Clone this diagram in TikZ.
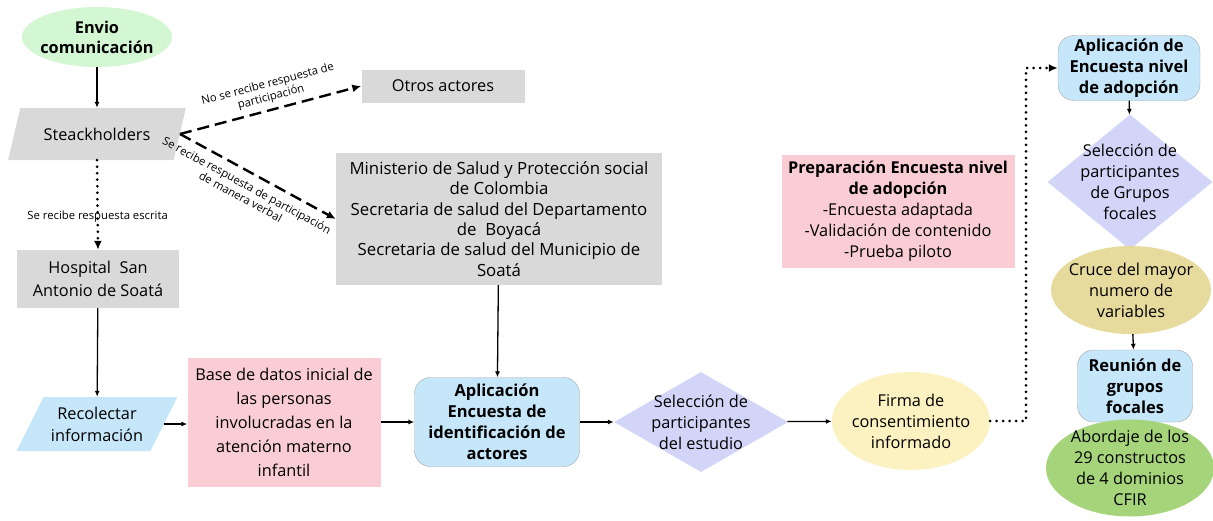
\documentclass[tikz,border=0pt]{standalone}
\usepackage{fontspec}
\setmainfont{Open Sans}
\usetikzlibrary{shapes.geometric,arrows.meta}

\definecolor{grisfondo}{HTML}{D9D9D9}
\definecolor{verdeclaro}{HTML}{D3F6D3}
\definecolor{azulclaro}{HTML}{C6E6FA}
\definecolor{rosa}{HTML}{F9CDD3}
\definecolor{lila}{HTML}{D3D5F8}
\definecolor{amarillo}{HTML}{FBF1C1}
\definecolor{caqui}{HTML}{E6DA9C}
\definecolor{verde}{HTML}{A5D47B}

\begin{document}
\begin{tikzpicture}[x=1pt,y=-1pt,font=\fontsize{16.3}{21}\selectfont,
    gris/.style={fill=grisfondo,align=center,inner sep=0pt},
    caja/.style={align=center,inner sep=0pt},
    paralelo/.style={trapezium,trapezium left angle=56,trapezium right angle=124,
        trapezium stretches=true,inner sep=0pt,align=center},
    redondo/.style={rounded corners=16pt,draw=gray!70,fill=azulclaro,align=center,
        inner sep=0pt,font=\fontsize{16.5}{21}\selectfont\bfseries},
    rombo/.style={diamond,fill=lila,inner sep=0pt},
    elipse/.style={ellipse,inner sep=0pt},
    txt/.style={align=center},
    etiq/.style={font=\fontsize{11.3}{13}\selectfont,align=center},
    flecha/.style={-{Latex[length=6pt,width=5pt]},line width=1.3pt},
    guiones/.style={-{Latex[length=9pt,width=8pt]},line width=2.4pt,dash pattern=on 12pt off 6pt},
    puntos/.style={-{Latex[length=9pt,width=8pt]},line width=3pt,line cap=round,dash pattern=on 0pt off 6.5pt}]
    \useasboundingbox (0,0) rectangle (1213,520);

    % columna izquierda
    \node[elipse,fill=verdeclaro,minimum width=150,minimum height=60,
        label={[txt,font=\fontsize{16.3}{20}\selectfont\bfseries]center:{Envio\\comunicación}}] (envio) at (97,37) {};
    \node[paralelo,fill=grisfondo,minimum width=178,minimum height=52] (stk) at (97,134) {Steackholders};
    \node[gris,minimum width=163,minimum height=33] (otros) at (443,86) {Otros actores};
    \node[gris,minimum width=326,minimum height=132,font=\fontsize{16.8}{20.4}\selectfont] (minis) at (499,219)
        {Ministerio de Salud y Protección social\\de Colombia\\Secretaria de salud del Departamento\\de~ Boyacá\\Secretaria de salud del Municipio de\\Soatá};
    \node[gris,minimum width=162,minimum height=58,font=\fontsize{16.3}{23}\selectfont] (hosp) at (98,279) {Hospital~ San\\Antonio de Soatá};
    \node[paralelo,fill=azulclaro,minimum width=161,minimum height=54,font=\fontsize{16.3}{22}\selectfont] (reco) at (97,424) {Recolectar\\información};

    % fila inferior
    \node[caja,fill=rosa,minimum width=193,minimum height=129,font=\fontsize{16.3}{24}\selectfont] (base) at (284,422)
        {Base de datos inicial de\\las personas\\involucradas en la\\atención materno\\infantil};
    \node[redondo,minimum width=165,minimum height=89] (apli) at (497,422)
        {Aplicación\\Encuesta de\\identificación de\\actores};
    \node[rombo,minimum width=174,minimum height=100,
        label={[txt]center:{Selección de\\participantes\\del estudio}}] (selec) at (701,422) {};
    \node[elipse,fill=amarillo,minimum width=158,minimum height=98,
        label={[txt]center:{Firma de\\consentimiento\\informado}}] (firma) at (911,421) {};
    \node[caja,fill=rosa,minimum width=233,minimum height=113] (prep) at (898,211)
        {\textbf{Preparación Encuesta nivel}\\\textbf{de adopción}\\-Encuesta adaptada\\-Validación de contenido\\-Prueba piloto};

    % columna derecha
    \node[redondo,minimum width=142,minimum height=65] (apli2) at (1129,68)
        {Aplicación de\\Encuesta nivel\\de adopción};
    \node[rombo,minimum width=165,minimum height=135,
        label={[txt]center:{Selección de\\participantes\\de Grupos\\focales}}] (selec2) at (1130,182) {};
    \node[elipse,fill=caqui,minimum width=160,minimum height=88,
        label={[txt]center:{Cruce del mayor\\numero de\\variables}}] (cruce) at (1131,290) {};
    \node[redondo,minimum width=115,minimum height=72] (reun) at (1135,386)
        {Reunión de\\grupos\\focales};
    \node[elipse,fill=verde,minimum width=168,minimum height=97,
        label={[txt]center:{Abordaje de los\\29 constructos\\de 4 dominios\\CFIR}}] (abord) at (1130,468) {};
    \coordinate (giro) at (1026,300);

    % conectores
    \draw[flecha] (envio) -- (stk);
    \draw[guiones] (stk.east) -- (otros.west)
        node[etiq,pos=0.52,sloped,above=2pt] {No se recibe respuesta de\\participación};
    \draw[guiones] (stk.east) -- (minis.west)
        node[etiq,pos=0.47,sloped,below=4pt] {Se recibe respuesta de participación\\de manera verbal};
    \draw[puntos] (stk.south) -- (hosp.north)
        node[etiq,pos=0.63] {Se recibe respuesta escrita};
    \draw[flecha] (hosp) -- (reco);
    \draw[flecha] (reco.east) -- (reco.east -| base.west);
    \draw[flecha] (base) -- (apli);
    \draw[flecha] (minis) -- (apli);
    \draw[flecha] (apli) -- (selec);
    \draw[flecha] (selec) -- (firma);
    \draw[puntos] (firma.east) -| (giro) |- (apli2.west);
    \draw[flecha] (apli2) -- (selec2);
    \draw[flecha] (cruce) -- (reun);
\end{tikzpicture}
\end{document}
